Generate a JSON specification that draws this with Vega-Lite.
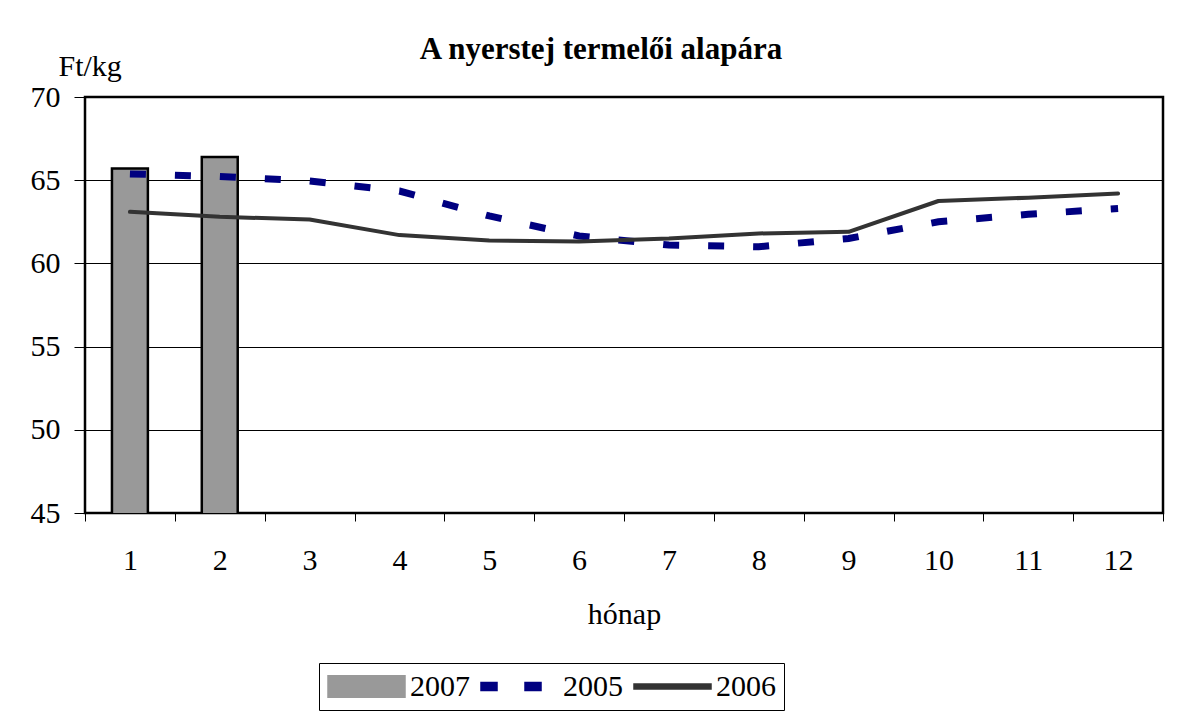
{
  "$schema": "https://vega.github.io/schema/vega-lite/v6.json",
  "autosize": {"type": "none"},
  "padding": {"left": 85, "top": 97, "right": 26, "bottom": 207},
  "width": 1078,
  "height": 416,
  "background": "white",
  "title": {
    "text": "A nyerstej termelői alapára",
    "font": "Liberation Serif",
    "fontSize": 31,
    "fontWeight": "bold",
    "color": "black",
    "anchor": "middle",
    "frame": "group",
    "dx": -23,
    "dy": 15,
    "offset": 0
  },
  "data": {
    "values": [
      {"month": 1, "year": "2007", "value": 65.7},
      {"month": 2, "year": "2007", "value": 66.4},
      {"month": 1, "year": "2005", "value": 65.38},
      {"month": 2, "year": "2005", "value": 65.22},
      {"month": 3, "year": "2005", "value": 64.95},
      {"month": 4, "year": "2005", "value": 64.35},
      {"month": 5, "year": "2005", "value": 62.85},
      {"month": 6, "year": "2005", "value": 61.65},
      {"month": 7, "year": "2005", "value": 61.1},
      {"month": 8, "year": "2005", "value": 61.0},
      {"month": 9, "year": "2005", "value": 61.5},
      {"month": 10, "year": "2005", "value": 62.5},
      {"month": 11, "year": "2005", "value": 62.95},
      {"month": 12, "year": "2005", "value": 63.3},
      {"month": 1, "year": "2006", "value": 63.1},
      {"month": 2, "year": "2006", "value": 62.8},
      {"month": 3, "year": "2006", "value": 62.64},
      {"month": 4, "year": "2006", "value": 61.7},
      {"month": 5, "year": "2006", "value": 61.37},
      {"month": 6, "year": "2006", "value": 61.32},
      {"month": 7, "year": "2006", "value": 61.5},
      {"month": 8, "year": "2006", "value": 61.8},
      {"month": 9, "year": "2006", "value": 61.9},
      {"month": 10, "year": "2006", "value": 63.75},
      {"month": 11, "year": "2006", "value": 63.95},
      {"month": 12, "year": "2006", "value": 64.2}
    ]
  },
  "encoding": {
    "x": {
      "field": "month",
      "type": "ordinal",
      "scale": {"paddingInner": 0, "paddingOuter": 0},
      "axis": {
        "title": "hónap",
        "labelAngle": 0,
        "labelFont": "Liberation Serif",
        "labelFontSize": 30,
        "labelColor": "black",
        "labelBaseline": "top",
        "labelPadding": 24,
        "tickBand": "extent",
        "tickSize": 8,
        "tickColor": "black",
        "tickWidth": 1,
        "domain": false,
        "grid": false,
        "titleFont": "Liberation Serif",
        "titleFontSize": 30,
        "titleFontWeight": "normal",
        "titleColor": "black",
        "titleBaseline": "alphabetic",
        "titleY": 110
      }
    },
    "y": {
      "field": "value",
      "type": "quantitative",
      "scale": {"domain": [45, 70], "nice": false, "zero": false},
      "axis": {
        "values": [45, 50, 55, 60, 65, 70],
        "title": "Ft/kg",
        "titleAngle": 0,
        "titleX": -27,
        "titleY": -22,
        "titleAlign": "left",
        "titleBaseline": "alphabetic",
        "titleFont": "Liberation Serif",
        "titleFontSize": 30,
        "titleFontWeight": "normal",
        "titleColor": "black",
        "labelFont": "Liberation Serif",
        "labelFontSize": 30,
        "labelColor": "black",
        "labelPadding": 14,
        "tickSize": 11,
        "tickColor": "black",
        "domain": false,
        "grid": true,
        "gridColor": "black",
        "gridWidth": 1,
        "gridOpacity": 1
      }
    },
    "color": {
      "field": "year",
      "type": "nominal",
      "scale": {"domain": ["2007", "2005", "2006"], "range": ["#999999", "#000080", "#333333"]},
      "legend": {
        "title": null,
        "orient": "none",
        "legendX": 234,
        "legendY": 566,
        "direction": "horizontal",
        "columns": 3,
        "padding": 8,
        "fillColor": "white",
        "strokeColor": "black",
        "labelFont": "Liberation Serif",
        "labelFontSize": 30,
        "labelColor": "black",
        "labelOffset": 4,
        "columnPadding": 10,
        "clipHeight": 31,
        "symbolSize": 5776,
        "symbolStrokeWidth": 2.5,
        "symbolStrokeColor": "black",
        "encode": {
          "symbols": {
            "update": {
              "shape": {"signal": "datum.value === '2007' ? 'M-1,-0.27H1V0.27H-1Z' : (datum.value === '2005' ? 'M-1,-0.092H-0.605V0.092H-1ZM0.158,-0.092H0.553V0.092H0.158Z' : 'M-1,-0.053H1V0.053H-1Z')"},
              "fill": {"signal": "datum.value === '2007' ? '#999999' : (datum.value === '2005' ? '#000080' : '#333333')"},
              "stroke": {"signal": "datum.value === '2007' ? 'black' : 'transparent'"},
              "strokeWidth": {"value": 2.5},
              "strokeOpacity": {"value": 1},
              "opacity": {"value": 1},
              "fillOpacity": {"value": 1}
            }
          }
        }
      }
    }
  },
  "layer": [
    {
      "transform": [{"filter": "datum.year === '2007'"}],
      "mark": {"type": "bar", "width": {"band": 0.4}, "stroke": "black", "strokeWidth": 2.5, "opacity": 1, "clip": true}
    },
    {
      "transform": [{"filter": "datum.year === '2005'"}],
      "mark": {"type": "line", "strokeWidth": 7, "strokeDash": [16, 29], "strokeCap": "butt"}
    },
    {
      "transform": [{"filter": "datum.year === '2006'"}],
      "mark": {"type": "line", "strokeWidth": 4, "strokeCap": "round", "strokeJoin": "round"}
    }
  ],
  "config": {
    "view": {"stroke": "black", "strokeWidth": 2.5},
    "font": "Liberation Serif",
    "axis": {"labelFont": "Liberation Serif", "titleFont": "Liberation Serif"},
    "legend": {"labelFont": "Liberation Serif"}
  }
}
